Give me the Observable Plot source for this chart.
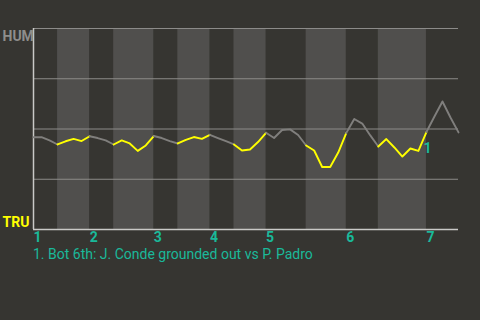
<!DOCTYPE html>
<html>
<head>
<meta charset="utf-8">
<script src="https://cdn.jsdelivr.net/npm/d3@7"></script>
<script src="https://cdn.jsdelivr.net/npm/@observablehq/plot@0.6"></script>
<style>
  html, body { margin: 0; padding: 0; background: #363531; width: 480px; height: 320px; overflow: hidden; }
  #chart { position: relative; width: 480px; height: 320px; }
  #caption { position: absolute; left: 33px; top: 247px; font: 14px Roboto, "Noto Sans", sans-serif; line-height: 14px; color: #1ab99a; white-space: nowrap; }
</style>
</head>
<body>
<div id="chart"></div>
<script>
// plays per half-inning (top 1st, bot 1st, top 2nd, ...)
const halfPlays = [3, 4, 3, 5, 3, 4, 3, 4, 5, 5, 4, 6, 4];
const inningLabels = ["1", "2", "3", "4", "5", "6", "7"];
// HUM win probability (%) after each play
const humWinPct = [
  45.9, 45.9, 44.3, 42.3, 43.9, 45.1, 44.0, 46.4, 45.5, 44.3,
  42.3, 44.3, 42.8, 39.1, 41.8, 46.5, 45.5, 44.0, 42.8, 44.6,
  46.0, 45.1, 47.1, 45.5, 44.0, 42.3, 39.3, 39.8, 43.5, 48.1,
  45.5, 49.5, 49.8, 47.0, 41.8, 39.3, 31.1, 31.1, 38.3, 48.0,
  55.0, 52.7, 46.8, 41.3, 45.0, 40.8, 36.3, 40.3, 39.1, 48.5,
  56.2, 63.7, 55.7, 48.3
];
const teams = ["HUM", "TRU"];
const eventPlays = [49];
const eventMarks = ["1"];
const eventTexts = ["1. Bot 6th: J. Conde grounded out vs P. Padro"];

const BAND = "#504f4d", GRID = "#8c8b89", AXIS = "#c9c9c7";
const GRAY = "#807f7d", YELLOW = "#ffff00", TEAL = "#1ab99a", HUMC = "#8e8e8c";

// build half-inning bands and line segments
const halves = [];
const linePts = [];
let s = 0;
halfPlays.forEach((n, h) => {
  halves.push({h, x1: s, x2: s + n, bottom: h % 2 === 1});
  for (let j = s; j <= s + n; j++) linePts.push({h, play: j, v: humWinPct[j], c: h % 2 === 1 ? YELLOW : GRAY});
  s += n;
});
const inningStarts = halves.filter(d => !d.bottom).map((d, i) => ({x: d.x1, label: inningLabels[i]}));
const events = eventPlays.map((p, i) => ({play: p, v: humWinPct[p], label: eventMarks[i]}));
const font = "Roboto, 'Noto Sans', sans-serif";

const plot = Plot.plot({
  width: 480,
  height: 246,
  marginTop: 28,
  marginBottom: 17,
  marginLeft: 33,
  marginRight: 22,
  style: {background: "transparent", fontFamily: font},
  x: {domain: [0, d3.sum(halfPlays)], axis: null},
  y: {domain: [0, 100], axis: null},
  color: {type: "identity"},
  marks: [
    Plot.rectY(halves.filter(d => d.bottom), {x1: "x1", x2: "x2", y1: 0, y2: 100, fill: BAND}),
    Plot.ruleY([25, 50, 75, 100], {stroke: GRID, strokeWidth: 1.2}),
    Plot.ruleY([0], {stroke: AXIS, strokeWidth: 1.5}),
    Plot.ruleX([0], {stroke: AXIS, strokeWidth: 1.5}),
    Plot.line(linePts, {x: "play", y: "v", z: "h", stroke: "c", strokeWidth: 1.9, curve: "linear"}),
    Plot.text(events, {x: "play", y: "v", text: "label", fill: TEAL, fontWeight: "bold", fontSize: 14, dy: 17, dx: 1}),
    Plot.text(inningStarts, {x: "x", text: "label", frameAnchor: "bottom", lineAnchor: "top", textAnchor: "start", dy: 3, fill: TEAL, fontWeight: "bold", fontSize: 14}),
    Plot.text([teams[0]], {frameAnchor: "top-left", text: d => d, lineAnchor: "top", textAnchor: "start", dx: -31, dy: 3, fill: HUMC, fontWeight: "bold", fontSize: 14}),
    Plot.text([teams[1]], {frameAnchor: "bottom-left", text: d => d, lineAnchor: "bottom", textAnchor: "start", dx: -31, dy: -3, fill: YELLOW, fontWeight: "bold", fontSize: 14})
  ]
});
const chart = document.getElementById("chart");
chart.appendChild(plot);
const cap = document.createElement("div");
cap.id = "caption";
cap.textContent = eventTexts[0];
chart.appendChild(cap);
</script>
</body>
</html>
